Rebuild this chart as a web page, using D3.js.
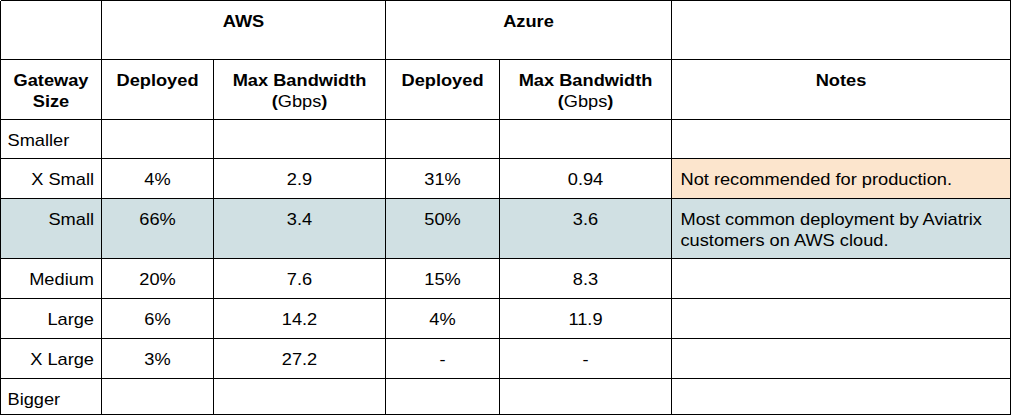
<!DOCTYPE html>
<html><head><meta charset="utf-8">
<script src="https://cdn.jsdelivr.net/npm/d3@7"></script>
<style>html,body{margin:0;padding:0;background:#fff;}svg{display:block;}</style>
</head><body><div id="chart"></div>
<script>
// ---- data ----
const groups = ["AWS", "Azure"];
const subHeaders = ["Gateway\nSize", "Deployed", "Max Bandwidth\n(Gbps)", "Deployed", "Max Bandwidth\n(Gbps)", "Notes"];
const sizes = ["Smaller", "X Small", "Small", "Medium", "Large", "X Large", "Bigger"];
const awsDeployed = ["", "4%", "66%", "20%", "6%", "3%", ""];
const awsBandwidth = ["", "2.9", "3.4", "7.6", "14.2", "27.2", ""];
const azureDeployed = ["", "31%", "50%", "15%", "4%", "-", ""];
const azureBandwidth = ["", "0.94", "3.6", "8.3", "11.9", "-", ""];
const notes = ["", "Not recommended for production.", "Most common deployment by Aviatrix\ncustomers on AWS cloud.", "", "", "", ""];

// ---- layout ----
const W = 1011, H = 415;
const colEdges = [0.5, 101.5, 213.5, 385.5, 499.5, 671.5, 1010.5];
const rowEdges = [0.5, 59.5, 119.5, 158.5, 198.5, 258.5, 298.5, 338.5, 378.5, 414.5];
const font = "'Liberation Sans', Arial, sans-serif";
const lineH = 21.5;
const stretch = 1.14;
const rowFill = {2: "#d0e0e3"};
const cellFill = {"1-5": "#fce5cd"};

const svg = d3.select("#chart").append("svg").attr("width", W).attr("height", H);

const x = d3.scaleOrdinal().domain(d3.range(7)).range(colEdges);
const y = d3.scaleOrdinal().domain(d3.range(10)).range(rowEdges);

const bodyRows = sizes.map((s, i) => [s, awsDeployed[i], awsBandwidth[i], azureDeployed[i], azureBandwidth[i], notes[i]]);

// fills
bodyRows.forEach((r, i) => {
  if (rowFill[i]) {
    svg.append("rect").attr("x", x(0)).attr("y", y(i + 2)).attr("width", x(6) - x(0)).attr("height", y(i + 3) - y(i + 2)).attr("fill", rowFill[i]);
  }
  r.forEach((c, j) => {
    const f = cellFill[i + "-" + j];
    if (f) svg.append("rect").attr("x", x(j)).attr("y", y(i + 2)).attr("width", x(j + 1) - x(j)).attr("height", y(i + 3) - y(i + 2)).attr("fill", f);
  });
});

function addText(lines, ax, top, anchor, weight, mixedParen) {
  const t = svg.append("text").attr("font-family", font).attr("font-size", 16).attr("fill", "#000")
    .attr("text-anchor", anchor).attr("font-weight", weight)
    .attr("transform", `translate(${ax},${top + 26}) scale(${stretch},1)`);
  lines.forEach((ln, k) => {
    const ts = t.append("tspan").attr("x", 0).attr("y", k * lineH);
    if (mixedParen && ln.startsWith("(")) {
      ts.text("(");
      t.append("tspan").attr("font-weight", "normal").text(ln.slice(1, -1));
      t.append("tspan").text(")");
    } else ts.text(ln);
  });
}

// group header row
addText([groups[0]], (x(1) + x(3)) / 2, y(0), "middle", "bold");
addText([groups[1]], (x(3) + x(5)) / 2, y(0), "middle", "bold");

// sub header row
subHeaders.forEach((h, j) => {
  addText(h.split("\n"), (x(j) + x(j + 1)) / 2, y(1), "middle", "bold", true);
});

// body
bodyRows.forEach((r, i) => {
  const top = y(i + 2);
  r.forEach((c, j) => {
    if (!c) return;
    const lines = c.split("\n");
    if (j === 0) {
      if (i === 0 || i === sizes.length - 1) addText(lines, x(0) + 7, top, "start", "normal");
      else addText(lines, x(1) - 7.5, top, "end", "normal");
    } else if (j === 5) {
      addText(lines, x(5) + 9, top, "start", "normal");
    } else {
      addText(lines, (x(j) + x(j + 1)) / 2, top, "middle", "normal");
    }
  });
});

// grid lines
const g = svg.append("g").attr("stroke", "#000").attr("stroke-width", 1).attr("shape-rendering", "crispEdges");
rowEdges.forEach((ry) => g.append("line").attr("x1", x(0)).attr("x2", x(6)).attr("y1", ry).attr("y2", ry));
colEdges.forEach((cx, j) => {
  const spansTop = (j === 2 || j === 4);
  g.append("line").attr("x1", cx).attr("x2", cx).attr("y1", spansTop ? y(1) : y(0)).attr("y2", y(9));
});
</script></body></html>
